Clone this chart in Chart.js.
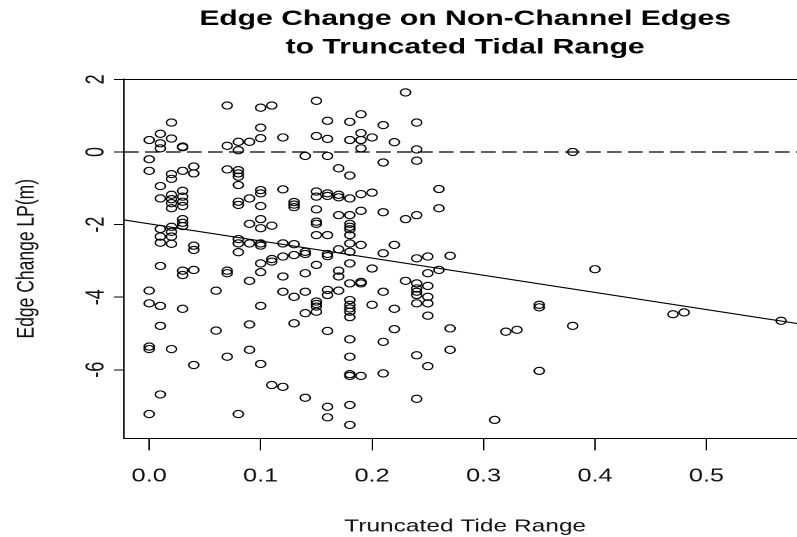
<!DOCTYPE html>
<html>
<head>
<meta charset="utf-8">
<script src="https://cdn.jsdelivr.net/npm/chart.js@4.4.1/dist/chart.umd.min.js"></script>
<style>
  html, body { margin: 0; padding: 0; background: #fff; overflow: hidden; }
  #wrap { width: 582px; height: 537px; transform: scaleX(1.4); transform-origin: 0 0; }
</style>
</head>
<body>
<div id="wrap"><canvas id="c" width="582" height="537"></canvas></div>
<script>
// ---- data ----
const TITLE_LINES = ["Edge Change on Non-Channel Edges", "to Truncated Tidal Range"];
const X_LABEL = "Truncated Tide Range";
const Y_LABEL = "Edge Change LP(m)";
const X_TICKS = [0, 0.1, 0.2, 0.3, 0.4, 0.5];
const Y_TICKS = [-6, -4, -2, 0, 2];

const tideRange = [
  0.07, 0.10, 0.11, 0.02, 0.01, 0.00, 0.01, 0.01, 0.02, 0.03, 0.03, 0.07, 0.08, 0.08, 0.09, 0.10, 0.10, 0.12,
  0.00, 0.00, 0.01, 0.02, 0.02, 0.03, 0.04, 0.04, 0.07, 0.08, 0.08, 0.08, 0.08, 0.10, 0.10, 0.09, 0.10, 0.12,
  0.01, 0.02, 0.02, 0.02, 0.02, 0.03, 0.03, 0.03, 0.03, 0.08, 0.08, 0.03, 0.03, 0.03, 0.01, 0.02, 0.02,
  0.01, 0.01, 0.02, 0.02, 0.04, 0.04, 0.08, 0.08, 0.09, 0.10, 0.10, 0.08, 0.09, 0.10, 0.10, 0.11, 0.12,
  0.01, 0.03, 0.03, 0.04, 0.07, 0.07, 0.09, 0.10, 0.10, 0.11, 0.11, 0.12, 0.12, 0.12, 0.00, 0.00, 0.01,
  0.03, 0.06, 0.10, 0.01, 0.06, 0.09, 0.00, 0.00, 0.02, 0.07, 0.09, 0.04, 0.10, 0.11, 0.12, 0.01, 0.00, 0.08,
  0.15, 0.23, 0.16, 0.18, 0.19, 0.21, 0.24, 0.15, 0.16, 0.18, 0.19, 0.19, 0.20, 0.22, 0.19, 0.24, 0.14, 0.16,
  0.21, 0.24, 0.17, 0.18, 0.15, 0.15, 0.16, 0.16, 0.17, 0.17, 0.18, 0.19, 0.20, 0.26, 0.26, 0.13, 0.13, 0.13,
  0.15, 0.15, 0.15, 0.17, 0.18, 0.19, 0.21, 0.23, 0.24, 0.18, 0.18, 0.18, 0.15, 0.16, 0.18, 0.13, 0.13, 0.14,
  0.14, 0.16, 0.16, 0.17, 0.18, 0.18, 0.19, 0.21, 0.22, 0.24, 0.25, 0.27,
  0.15, 0.18, 0.20, 0.14, 0.17, 0.17, 0.26, 0.25, 0.18, 0.19, 0.19, 0.23, 0.24, 0.24, 0.24, 0.24, 0.25, 0.13,
  0.14, 0.16, 0.16, 0.17, 0.21, 0.15, 0.15, 0.15, 0.15, 0.14, 0.18, 0.18, 0.18, 0.18, 0.18, 0.20, 0.22, 0.24,
  0.25, 0.25, 0.25, 0.13, 0.16, 0.22, 0.27, 0.18, 0.21, 0.27, 0.18, 0.24, 0.25, 0.18, 0.18, 0.19, 0.21, 0.14,
  0.16, 0.18, 0.24, 0.16, 0.18,
  0.38, 0.40, 0.35, 0.35, 0.32, 0.33, 0.38, 0.47, 0.48, 0.567, 0.35, 0.31
];
const edgeChange = [
  1.28, 1.22, 1.28, 0.81, 0.50, 0.33, 0.24, 0.10, 0.37, 0.15, 0.13, 0.17, 0.28, 0.05, 0.28, 0.38, 0.67, 0.40,
  -0.20, -0.52, -0.94, -0.61, -0.74, -0.52, -0.40, -0.59, -0.48, -0.50, -0.59, -0.68, -0.91, -1.05, -1.14, -1.28, -1.49, -1.03,
  -1.28, -1.18, -1.30, -1.41, -1.55, -1.07, -1.23, -1.37, -1.49, -1.37, -1.46, -1.85, -1.95, -2.04, -2.12, -2.06, -2.20,
  -2.33, -2.50, -2.33, -2.53, -2.58, -2.70, -2.40, -2.52, -2.52, -2.52, -2.58, -2.76, -1.98, -1.85, -2.10, -2.03, -2.52,
  -3.14, -3.27, -3.39, -3.25, -3.27, -3.34, -3.55, -3.07, -3.31, -2.95, -3.02, -2.88, -3.43, -3.85, -3.82, -4.17, -4.24,
  -4.32, -3.82, -4.24, -4.79, -4.92, -4.75, -5.36, -5.43, -5.43, -5.64, -5.45, -5.87, -5.84, -6.42, -6.47, -6.68, -7.22, -7.22,
  1.41, 1.64, 0.86, 0.83, 1.04, 0.74, 0.81, 0.44, 0.36, 0.33, 0.52, 0.33, 0.40, 0.27, 0.10, 0.07, -0.11, -0.11,
  -0.29, -0.24, -0.45, -0.65, -1.09, -1.23, -1.14, -1.21, -1.18, -1.25, -1.28, -1.16, -1.12, -1.02, -1.55, -1.38, -1.45, -1.52,
  -1.58, -1.92, -1.98, -1.74, -1.74, -1.62, -1.66, -1.85, -1.74, -1.98, -2.06, -2.13, -2.29, -2.29, -2.29, -2.54, -2.84, -2.75,
  -2.81, -2.81, -2.87, -2.68, -2.52, -2.75, -2.56, -2.79, -2.56, -2.93, -2.88, -2.86,
  -3.11, -3.07, -3.21, -3.34, -3.27, -3.43, -3.25, -3.34, -3.62, -3.58, -3.62, -3.55, -3.62, -3.76, -3.85, -3.94, -3.69, -3.99,
  -3.85, -3.80, -3.94, -3.82, -3.85, -4.12, -4.19, -4.26, -4.40, -4.44, -4.08, -4.21, -4.31, -4.40, -4.55, -4.21, -4.32, -4.17,
  -3.99, -4.17, -4.51, -4.72, -4.93, -4.88, -4.86, -5.16, -5.23, -5.45, -5.64, -5.60, -5.90, -6.12, -6.17, -6.17, -6.10, -6.77,
  -7.02, -6.97, -6.80, -7.31, -7.52,
  0.00, -3.23, -4.21, -4.28, -4.95, -4.90, -4.79, -4.47, -4.42, -4.65, -6.03, -7.38
];
// fitted line as drawn in the reference (intercept, slope)
const FIT_INTERCEPT = -1.98;
const FIT_SLOPE = -4.72;
const REF_LEVEL = 0;

// axis limits (R style: data range + 4%)
const X_MIN = -0.0227, X_MAX = 0.5897;
const Y_MIN = -7.89, Y_MAX = 2.01;

const points = tideRange.map((x, i) => ({ x: x, y: edgeChange[i] }));
const FONT = "'Liberation Sans', Arial, Helvetica, sans-serif";

const frameTop = {
  id: 'frameTop',
  afterDraw(chart) {
    const { ctx, chartArea } = chart;
    ctx.save();
    ctx.strokeStyle = '#000';
    ctx.lineWidth = 1;
    ctx.beginPath();
    ctx.moveTo(chartArea.left, Math.round(chartArea.top) + 0.5);
    ctx.lineTo(chartArea.right, Math.round(chartArea.top) + 0.5);
    ctx.moveTo(chartArea.right, chartArea.top);
    ctx.lineTo(chartArea.right, chartArea.bottom);
    ctx.stroke();
    ctx.restore();
  }
};

new Chart(document.getElementById('c'), {
  type: 'scatter',
  data: {
    datasets: [
      {
        label: 'zero',
        data: [{ x: X_MIN, y: REF_LEVEL }, { x: X_MAX, y: REF_LEVEL }],
        showLine: true, pointRadius: 0, borderColor: '#000', borderWidth: 1.2,
        borderDash: [10.5, 4.5], fill: false
      },
      {
        label: 'fit',
        data: [{ x: X_MIN, y: FIT_INTERCEPT + FIT_SLOPE * X_MIN }, { x: X_MAX, y: FIT_INTERCEPT + FIT_SLOPE * X_MAX }],
        showLine: true, pointRadius: 0, borderColor: '#000', borderWidth: 1.1, fill: false
      },
      {
        label: 'edges',
        data: points,
        pointStyle: 'circle', pointRadius: 3.6, pointBorderWidth: 1.1,
        borderColor: '#000', backgroundColor: 'rgba(0,0,0,0)', showLine: false
      }
    ]
  },
  options: {
    responsive: false,
    animation: false,
    devicePixelRatio: 2,
    events: [],
    layout: { padding: { left: 0, right: 6, top: 0, bottom: 0 } },
    plugins: {
      legend: { display: false },
      tooltip: { enabled: false },
      title: {
        display: true,
        fullSize: false,
        text: TITLE_LINES,
        color: '#000',
        font: { family: FONT, size: 21.5, weight: 'bold', lineHeight: 1.326 },
        padding: { top: 5, bottom: 17 }
      }
    },
    scales: {
      x: {
        type: 'linear', min: X_MIN, max: X_MAX,
        afterBuildTicks: s => { s.ticks = X_TICKS.map(v => ({ value: v })); },
        afterFit: s => { s.height = 98.6; },
        grid: { display: true, drawOnChartArea: false, drawTicks: true, tickLength: 12, color: '#000', lineWidth: 1 },
        border: { display: true, color: '#000', width: 1 },
        ticks: {
          autoSkip: false, maxRotation: 0, minRotation: 0, padding: 15.5, color: '#111',
          font: { family: FONT, size: 18 },
          callback: v => Number(v).toFixed(1)
        },
        title: {
          display: true, text: X_LABEL, color: '#111',
          font: { family: FONT, size: 17.5 }, padding: { top: 0, bottom: 0 }
        }
      },
      y: {
        type: 'linear', min: Y_MIN, max: Y_MAX,
        afterBuildTicks: s => { s.ticks = Y_TICKS.map(v => ({ value: v })); },
        afterFit: s => { s.width = 88.5; },
        grid: { display: true, drawOnChartArea: false, drawTicks: true, tickLength: 7, color: '#000', lineWidth: 1 },
        border: { display: true, color: '#000', width: 1 },
        ticks: {
          autoSkip: false, minRotation: 90, maxRotation: 90, crossAlign: 'center', padding: 4.5, color: '#111',
          font: { family: FONT, size: 18 },
          callback: v => String(v)
        },
        title: {
          display: true, text: Y_LABEL, color: '#111',
          font: { family: FONT, size: 17.5 }, padding: { top: 8.8, bottom: 0 }
        }
      }
    }
  },
  plugins: [frameTop]
});
</script>
</body>
</html>
